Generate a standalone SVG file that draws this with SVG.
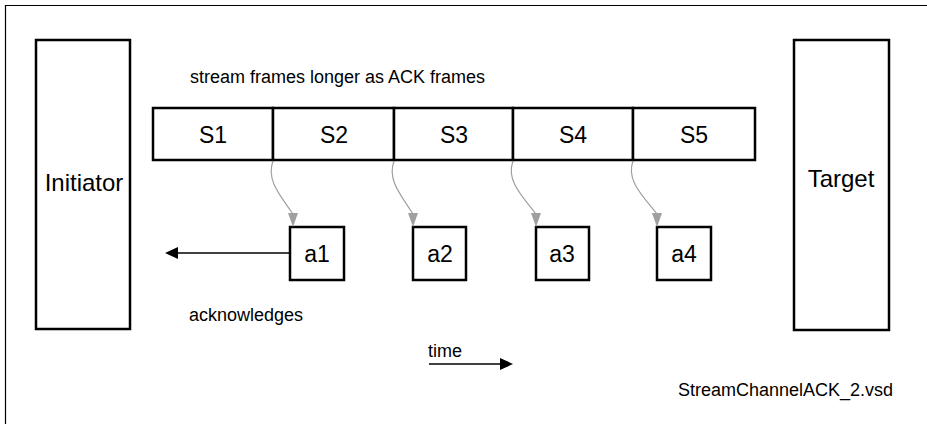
<svg xmlns="http://www.w3.org/2000/svg" width="927" height="424" viewBox="0 0 927 424">
  <style>
    .box { fill: #ffffff; stroke: #000000; stroke-width: 2.5; }
    .t { font-family: "Liberation Sans", Arial, sans-serif; fill: #000000; }
    .lbl { font-size: 23px; text-anchor: middle; }
    .big { font-size: 24px; text-anchor: middle; }
    .small { font-size: 18px; }
    .gcurve { fill: none; stroke: #a0a0a0; stroke-width: 1.2; }
    .ghead { fill: #a0a0a0; }
    .bline { fill: none; stroke: #000000; stroke-width: 1.3; }
  </style>
  <rect width="927" height="424" fill="#ffffff"/>
  <path d="M5.5,424 V5.5 H927" fill="none" stroke="#000000" stroke-width="1.2"/>

  <g id="initiator">
    <rect class="box" x="36" y="40" width="94" height="289"/>
    <text class="t big" x="84" y="191">Initiator</text>
  </g>
  <g id="target">
    <rect class="box" x="794" y="40" width="95" height="290"/>
    <text class="t big" x="841" y="187">Target</text>
  </g>

  <text class="t small" x="190" y="83">stream frames longer as ACK frames</text>

  <g id="s1">
    <rect class="box" x="153" y="108" width="120" height="52"/>
    <text class="t lbl" x="213" y="143">S1</text>
  </g>
  <g id="s2">
    <rect class="box" x="273" y="108" width="121" height="52"/>
    <text class="t lbl" x="334" y="143">S2</text>
  </g>
  <g id="s3">
    <rect class="box" x="394" y="108" width="119" height="52"/>
    <text class="t lbl" x="454" y="143">S3</text>
  </g>
  <g id="s4">
    <rect class="box" x="513" y="108" width="120" height="52"/>
    <text class="t lbl" x="573" y="143">S4</text>
  </g>
  <g id="s5">
    <rect class="box" x="633" y="108" width="122" height="52"/>
    <text class="t lbl" x="694" y="143">S5</text>
  </g>

  <g id="a1">
    <rect class="box" x="290" y="227" width="54" height="53"/>
    <text class="t lbl" x="317" y="262">a1</text>
  </g>
  <g id="a2">
    <rect class="box" x="413" y="227" width="53" height="53"/>
    <text class="t lbl" x="440" y="262">a2</text>
  </g>
  <g id="a3">
    <rect class="box" x="536" y="227" width="53" height="53"/>
    <text class="t lbl" x="562" y="262">a3</text>
  </g>
  <g id="a4">
    <rect class="box" x="657" y="227" width="54" height="53"/>
    <text class="t lbl" x="684" y="262">a4</text>
  </g>

  <g id="connectors">
    <path class="gcurve" d="M273,161 C266,180 280,195 293,214"/>
    <polygon class="ghead" points="288,213 298,213 293,227"/>
    <path class="gcurve" d="M394,161 C387,180 401,195 413,214"/>
    <polygon class="ghead" points="408,213 418,213 413,227"/>
    <path class="gcurve" d="M513,161 C506,180 521,195 536,214"/>
    <polygon class="ghead" points="531,213 541,213 536,227"/>
    <path class="gcurve" d="M633,161 C626,180 642,195 657,214"/>
    <polygon class="ghead" points="652,213 662,213 657,227"/>

    <line class="bline" x1="290" y1="253" x2="176" y2="253"/>
    <polygon points="165,253 178,247 178,259" fill="#000000"/>

    <line class="bline" x1="429" y1="364" x2="502" y2="364"/>
    <polygon points="513,364 500,358 500,370" fill="#000000"/>
  </g>

  <text class="t small" x="189" y="321">acknowledges</text>
  <text class="t small" x="428" y="357">time</text>
  <text class="t small" x="678" y="396">StreamChannelACK_2.vsd</text>
</svg>
